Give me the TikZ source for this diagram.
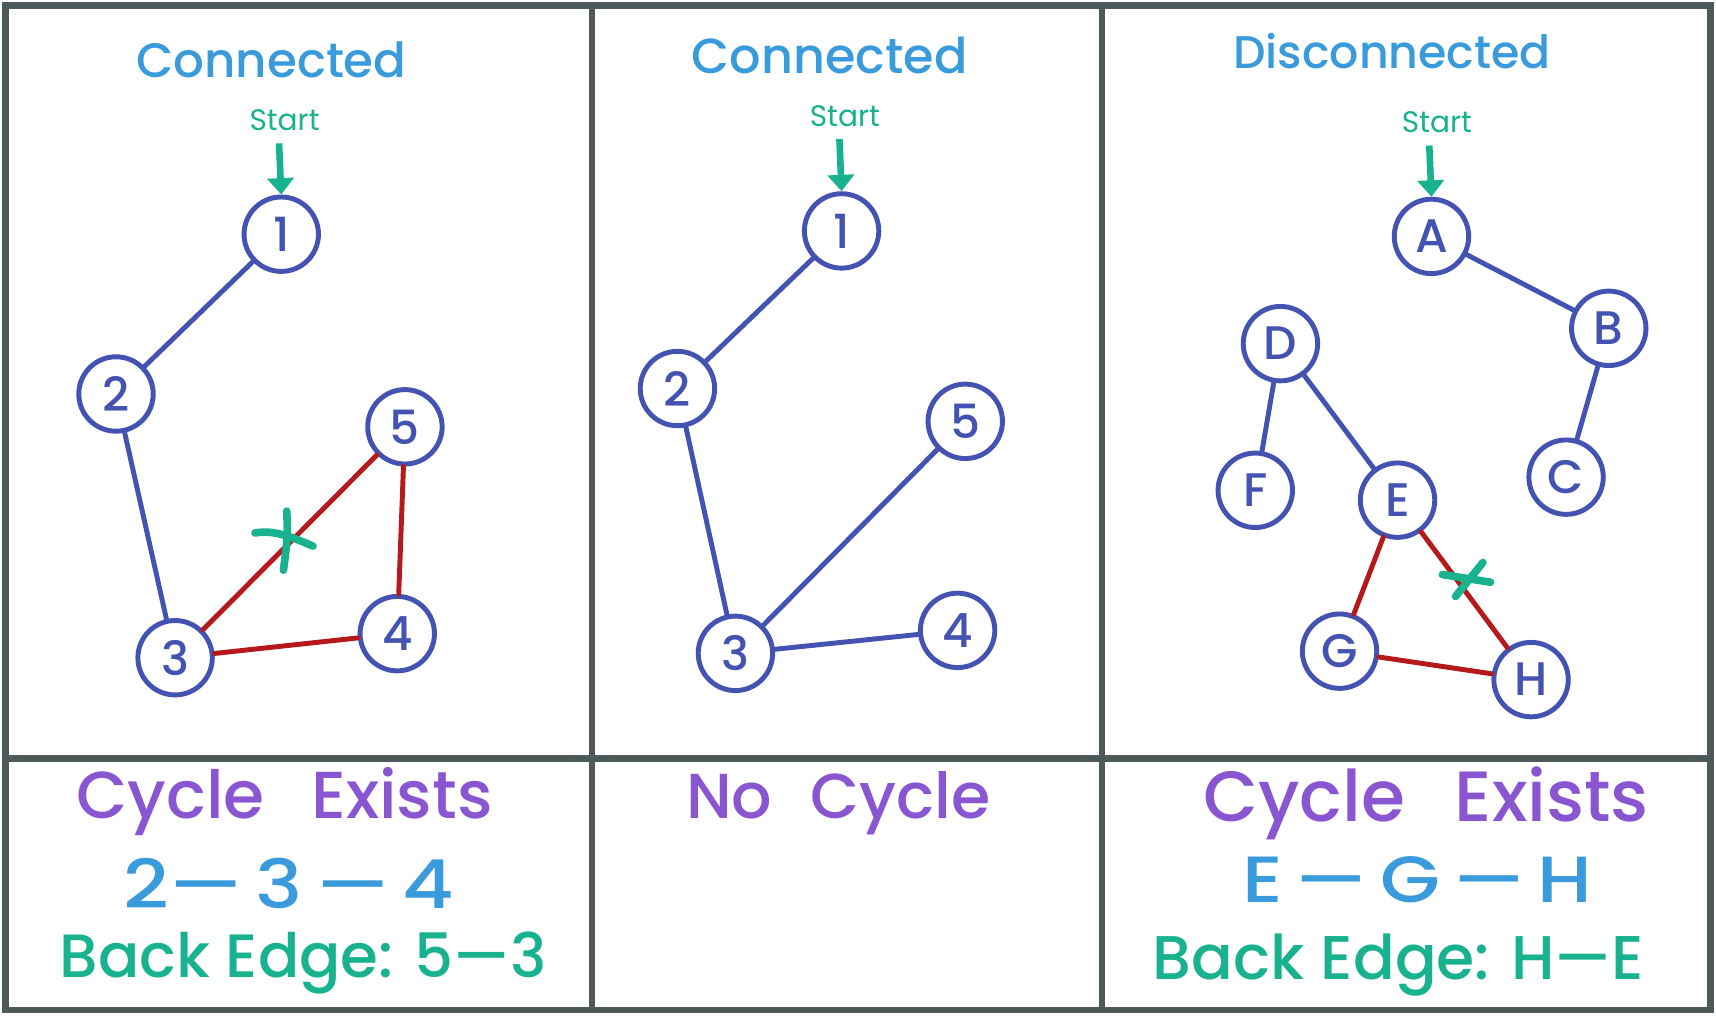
\documentclass[tikz,border=0pt]{standalone}
\usepackage{fontspec}
\usepackage{graphicx}
\setmainfont{Poppins}[BoldFont={Poppins Medium}]
\usetikzlibrary{arrows.meta}
\definecolor{framec}{HTML}{4E5A5A}
\definecolor{txtblue}{HTML}{3A9BDC}
\definecolor{txtpurple}{HTML}{8A55D0}
\definecolor{txtgreen}{HTML}{19B28E}
\definecolor{indigo}{HTML}{4453B2}
\definecolor{edgered}{HTML}{B5191B}
\tikzset{
  gnode/.style={circle, draw=indigo, line width=4.5pt, minimum size=68pt, inner sep=0pt, text=indigo, font=\fontsize{43}{45}\selectfont\bfseries, fill=white},
  treeedge/.style={draw=indigo, line width=4.5pt, line cap=round},
  cycedge/.style={draw=edgered, line width=4.5pt, line cap=round},
  startarrow/.style={draw=txtgreen, line width=6pt, -{Triangle[length=15pt,width=24pt]}},
  crossmark/.style={draw=txtgreen, line width=7pt, line cap=round},
  framel/.style={draw=framec, line width=6pt},
  lbl/.style={inner sep=0pt, outer sep=0pt, font=\bfseries}
}
\begin{document}
\begin{tikzpicture}[x=1pt,y=-1pt]
\useasboundingbox (0,0) rectangle (1568,928);
\fill[white] (0,0) rectangle (1568,928);

% frame
\draw[framel] (5,5) rectangle (1563,923);
\draw[framel] (541,5) -- (541,923);
\draw[framel] (1007,5) -- (1007,923);
\draw[framel] (5,693) -- (1563,693);

% ---------- panel 1 ----------
\node[lbl, text=txtblue] (t1) at (248,55) {\resizebox{247pt}{!}{Connected}};
\node[lbl, text=txtgreen, font=\normalfont] (s1) at (260,110) {\resizebox{64pt}{!}{Start}};
\node[gnode] (p1n1) at (257,214) {1};
\node[gnode] (p1n2) at (106,360) {2};
\node[gnode] (p1n5) at (370,390) {5};
\node[gnode] (p1n3) at (160,601) {3};
\node[gnode] (p1n4) at (363,579) {4};
\coordinate (p1a) at (255,131);
\draw[startarrow] (p1a) -- (p1n1.north);
\draw[treeedge] (p1n1) -- (p1n2);
\draw[treeedge] (p1n2) -- (p1n3);
\draw[cycedge] (p1n3) -- (p1n5);
\draw[cycedge] (p1n5) -- (p1n4);
\draw[cycedge] (p1n3) -- (p1n4);
\coordinate (x1a) at (233,487);
\coordinate (x1b) at (286,499);
\coordinate (x1c) at (262,467);
\coordinate (x1d) at (259,521);
\draw[crossmark] (x1a) .. controls (250,484) and (265,490) .. (x1b);
\draw[crossmark] (x1c) .. controls (263,490) .. (x1d);

% ---------- panel 2 ----------
\node[lbl, text=txtblue] (t2) at (758,51) {\resizebox{252pt}{!}{Connected}};
\node[lbl, text=txtgreen, font=\normalfont] (s2) at (772,106) {\resizebox{64pt}{!}{Start}};
\node[gnode] (p2n1) at (769,211) {1};
\node[gnode] (p2n2) at (619,355) {2};
\node[gnode] (p2n5) at (882,385) {5};
\node[gnode] (p2n3) at (672,597) {3};
\node[gnode] (p2n4) at (875,576) {4};
\coordinate (p2a) at (767,127);
\draw[startarrow] (p2a) -- (p2n1.north);
\draw[treeedge] (p2n1) -- (p2n2);
\draw[treeedge] (p2n2) -- (p2n3);
\draw[treeedge] (p2n3) -- (p2n5);
\draw[treeedge] (p2n3) -- (p2n4);

% ---------- panel 3 ----------
\node[lbl, text=txtblue] (t3) at (1272,47) {\resizebox{290pt}{!}{Disconnected}};
\node[lbl, text=txtgreen, font=\normalfont] (s3) at (1313,112) {\resizebox{64pt}{!}{Start}};
\node[gnode] (nA) at (1308,216) {A};
\node[gnode] (nB) at (1470,300) {B};
\node[gnode] (nD) at (1170,314) {D};
\node[gnode] (nC) at (1431,436) {C};
\node[gnode] (nF) at (1147,448) {F};
\node[gnode] (nE) at (1277,457) {E};
\node[gnode] (nG) at (1224,595) {G};
\node[gnode] (nH) at (1399,621) {H};
\coordinate (p3a) at (1306,133);
\draw[startarrow] (p3a) -- (nA.north);
\draw[treeedge] (nA) -- (nB);
\draw[treeedge] (nB) -- (nC);
\draw[treeedge] (nD) -- (nF);
\draw[treeedge] (nD) -- (nE);
\draw[cycedge] (nE) -- (nG);
\draw[cycedge] (nE) -- (nH);
\draw[cycedge] (nG) -- (nH);
\coordinate (x3a) at (1318,525);
\coordinate (x3b) at (1362,532);
\coordinate (x3c) at (1355,514);
\coordinate (x3d) at (1330,545);
\draw[crossmark] (x3a) -- (x3b);
\draw[crossmark] (x3c) -- (x3d);

% ---------- bottom texts ----------
\node[lbl, text=txtpurple] (c1) at (260,732) {\resizebox{380pt}{!}{Cycle\hspace{0.7em}Exists}};
\node[lbl, text=txtblue] (q1) at (264,807) {\resizebox{302pt}{46pt}{2—\,3\,—\,4}};
\node[lbl, text=txtgreen] (b1) at (277,880) {\resizebox{445pt}{!}{Back Edge: 5—3}};

\node[lbl, text=txtpurple] (c2) at (766,734) {\resizebox{278pt}{!}{No\hspace{0.6em}Cycle}};

\node[lbl, text=txtpurple] (c3) at (1303,734) {\resizebox{407pt}{!}{Cycle\hspace{0.7em}Exists}};
\node[lbl, text=txtblue] (q3) at (1295,804) {\resizebox{320pt}{42pt}{E\,—\,G\,—\,H}};
\node[lbl, text=txtgreen] (b3) at (1278,882) {\resizebox{449pt}{!}{Back Edge: H—E}};
\end{tikzpicture}
\end{document}
